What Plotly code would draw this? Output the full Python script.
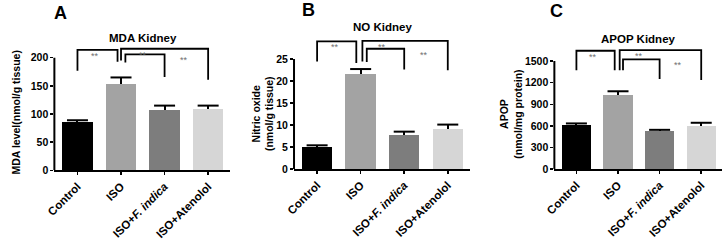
import plotly.graph_objects as go

# ---------------- data ----------------
categories = ["Control", "ISO", "ISO+F. indica", "ISO+Atenolol"]
tick_labels = ["Control", "ISO", "ISO+<i>F. indica</i>", "ISO+Atenolol"]

mda_mean = [86, 154, 107, 109]
mda_sem = [3, 11, 8, 6]

no_mean = [5.1, 21.6, 7.8, 9.2]
no_sem = [0.3, 1.1, 0.7, 0.9]

apop_mean = [612, 1027, 522, 603]
apop_sem = [22, 53, 23, 40]

sig_label = "**"

# ---------------- styling / layout ----------------
bar_colors = ["#000000", "#a3a3a3", "#7d7d7d", "#d6d6d6"]
FONT = "Liberation Sans, Arial, sans-serif"

panels = [
    dict(letter="A", title="MDA Kidney", ytitle="MDA level(nmol/g tissue)",
         mean=mda_mean, sem=mda_sem, yrange=[0, 220], tickvals=[0, 50, 100, 150, 200],
         ymax=200,
         xdom=[45/723, 223/723], ydom=[0.2625, 0.7988],
         letter_pos=(51/723, 0.942), title_y=0.836, ytitle_pos=(6/723, 0.5125),
         brackets=[(0, 0.92, 214, 177, 193), (1.0, 3, 216, 195, 161), (1.1, 2, 206, 191.5, 166)]),
    dict(letter="B", title="NO Kidney", ytitle="Nitric oxide<br>(nmol/g tissue)",
         mean=no_mean, sem=no_sem, yrange=[0, 30], tickvals=[0, 5, 10, 15, 20, 25],
         ymax=25,
         xdom=[288/723, 466/723], ydom=[0.2679, 0.8404],
         letter_pos=(303/723, 0.958), title_y=0.882, ytitle_pos=(256/723, 0.508),
         brackets=[(0, 0.9, 29.0, 24.4, 24.1), (1.04, 3, 29.1, 24.4, 22.4), (1.14, 2, 27.3, 24.3, 22.6)]),
    dict(letter="C", title="APOP Kidney", ytitle="APOP<br>(nmol/mg protein)",
         mean=apop_mean, sem=apop_sem, yrange=[0, 1700], tickvals=[0, 300, 600, 900, 1200, 1500],
         ymax=1500,
         xdom=[552/723, 722/723], ydom=[0.2679, 0.7983],
         letter_pos=(554/723, 0.951), title_y=0.833, ytitle_pos=(508/723, 0.508),
         brackets=[(0, 0.92, 1642, 1371, 1371), (1.04, 3, 1650, 1371, 1238), (1.12, 2, 1522, 1371, 1251)]),
]
star_x = [0.4, 1.5, 2.45]

fig = go.Figure()
annotations = []
shapes = []

for i, p in enumerate(panels):
    n = "" if i == 0 else str(i + 1)
    xa, ya = "x" + n, "y" + n
    xpos = list(range(len(categories)))
    fig.add_trace(go.Bar(
        x=xpos, y=p["mean"], xaxis=xa, yaxis=ya, width=0.7,
        marker=dict(color=bar_colors, line=dict(width=0)),
        error_y=dict(type="data", array=p["sem"], arrayminus=[0] * 4, symmetric=False,
                     color="#000000", thickness=2, width=0),
        hoverinfo="skip",
    ))
    # error bar caps (top only)
    fig.add_trace(go.Scatter(
        x=xpos, y=[m + s for m, s in zip(p["mean"], p["sem"])], xaxis=xa, yaxis=ya,
        mode="markers", marker=dict(symbol="line-ew", size=15,
                                    line=dict(color="#000000", width=2)),
        hoverinfo="skip", cliponaxis=False,
    ))
    # significance brackets
    for (x0, x1, top, lb, rb), sx in zip(p["brackets"], star_x):
        fig.add_trace(go.Scatter(
            x=[x0, x0, x1, x1], y=[lb, top, top, rb], xaxis=xa, yaxis=ya,
            mode="lines", line=dict(color="#000000", width=1.8), hoverinfo="skip",
        ))
        annotations.append(dict(x=sx, y=top, xref=xa, yref=ya, text=sig_label,
                                showarrow=False, yanchor="middle", yshift=-6,
                                font=dict(family=FONT, size=9, color="#6e6e6e")))
    # y axis line only up to the top tick
    shapes.append(dict(type="line", xref=xa + " domain", yref=ya, x0=0, x1=0,
                       y0=0, y1=p["ymax"], line=dict(color="#000000", width=2)))
    layout_x = dict(domain=p["xdom"], range=[-0.53, 3.5], tickvals=xpos, ticktext=tick_labels,
                    tickangle=-45, showline=True, linecolor="#000000", linewidth=2,
                    ticks="outside", ticklen=3, tickwidth=1.5, tickcolor="#000000",
                    tickfont=dict(family=FONT, size=11.5, color="#000000", weight="bold"),
                    showgrid=False, zeroline=False, anchor=ya, fixedrange=True)
    layout_y = dict(domain=p["ydom"], range=p["yrange"], tickvals=p["tickvals"],
                    showline=False, ticks="outside", ticklen=3, tickwidth=1.5,
                    tickcolor="#000000",
                    tickfont=dict(family=FONT, size=10.5, color="#000000", weight="bold"),
                    showgrid=False, zeroline=False, anchor=xa, fixedrange=True)
    fig.update_layout(**{"xaxis" + n: layout_x, "yaxis" + n: layout_y})

    annotations.append(dict(x=p["letter_pos"][0], y=p["letter_pos"][1], xref="paper", yref="paper",
                            text=p["letter"], showarrow=False, xanchor="center", yanchor="middle",
                            font=dict(family=FONT, size=18, color="#000000", weight="bold")))
    annotations.append(dict(x=1.5, y=p["title_y"], xref=xa, yref="paper", text=p["title"],
                            showarrow=False, xanchor="center", yanchor="middle",
                            font=dict(family=FONT, size=11.5, color="#000000", weight="bold")))
    annotations.append(dict(x=p["ytitle_pos"][0], y=p["ytitle_pos"][1], xref="paper", yref="paper",
                            text=p["ytitle"], showarrow=False, textangle=-90,
                            xanchor="center", yanchor="middle",
                            font=dict(family=FONT, size=10.5, color="#000000", weight="bold")))

fig.update_layout(width=723, height=240, margin=dict(l=0, r=0, t=0, b=0),
                  paper_bgcolor="white", plot_bgcolor="white", showlegend=False,
                  annotations=annotations, shapes=shapes, bargap=0)

fig.write_html("out.html", config={"displayModeBar": False, "staticPlot": True},
               post_script="document.body.style.margin='0';document.body.style.overflow='hidden';")
